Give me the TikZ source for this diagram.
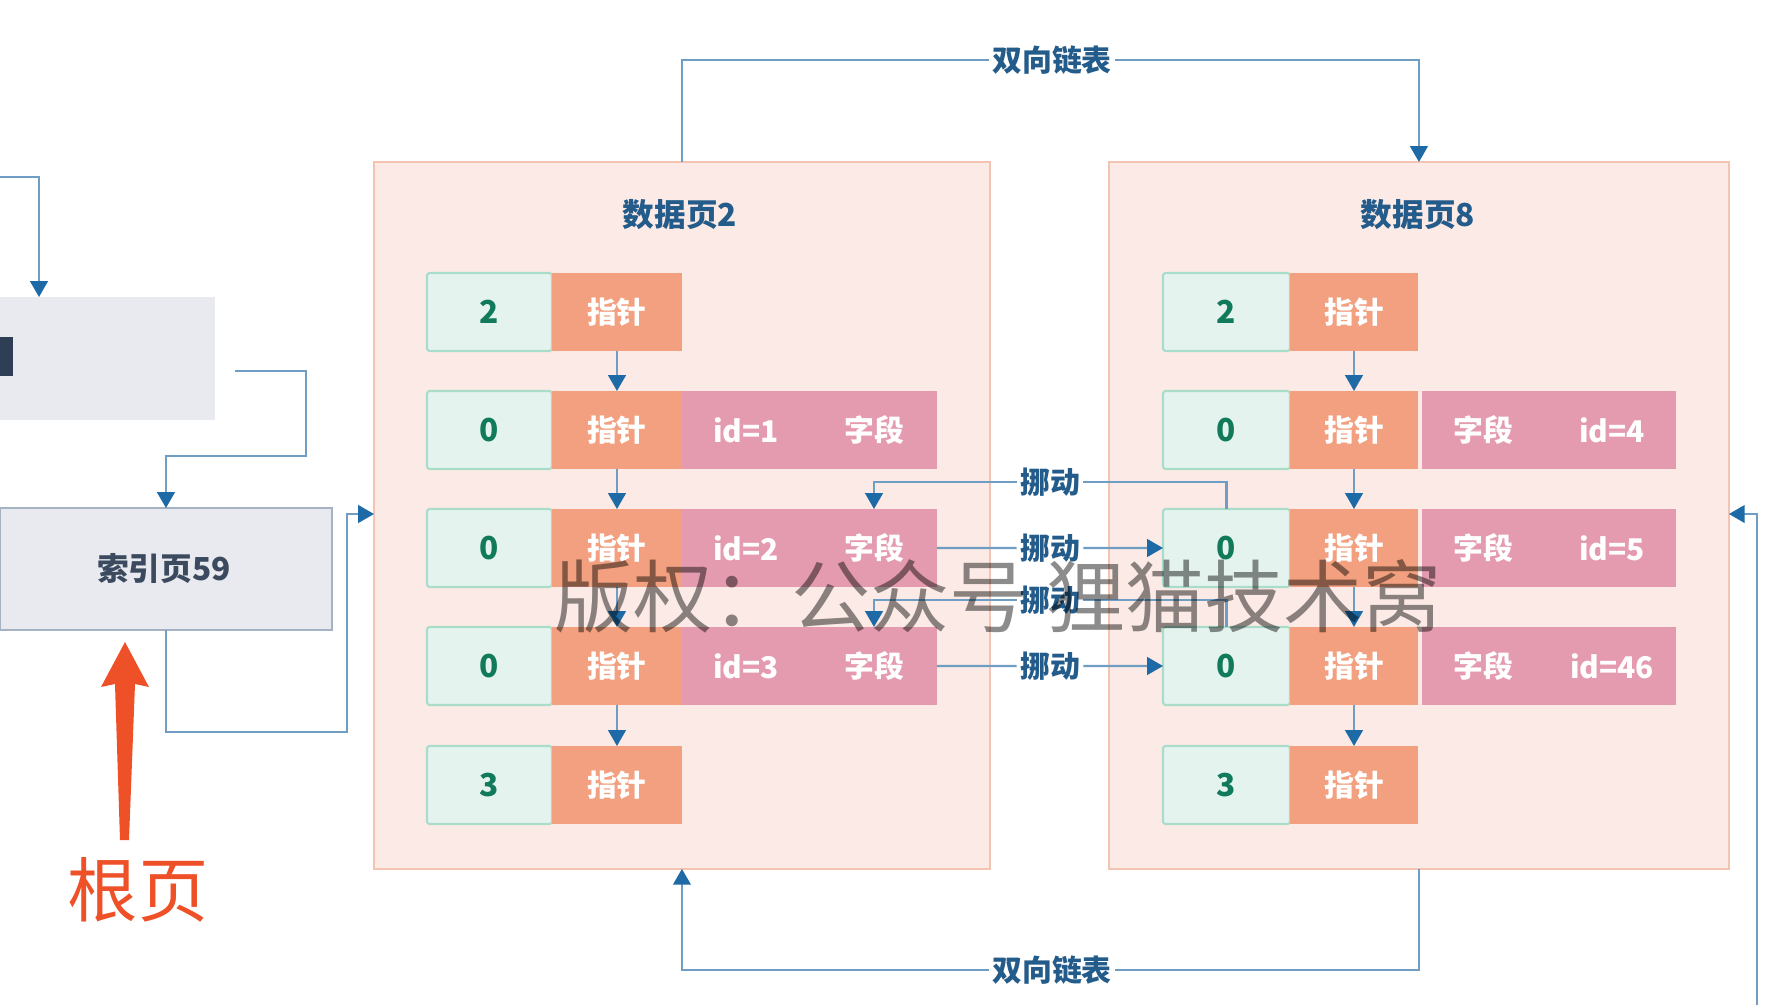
\documentclass[tikz,border=0pt]{standalone}
\usepackage{fontspec}
\setmainfont{Noto Sans CJK SC}
\usetikzlibrary{arrows.meta}
\definecolor{lineblue}{HTML}{6F9DC4}
\definecolor{tipblue}{HTML}{1E6AA6}
\definecolor{titleblue}{HTML}{235B8A}
\definecolor{framefill}{HTML}{FBEAE5}
\definecolor{framedraw}{HTML}{F4C4B2}
\definecolor{numfill}{HTML}{E5F3EE}
\definecolor{numdraw}{HTML}{A9DCC9}
\definecolor{numtext}{HTML}{117A5B}
\definecolor{ptrfill}{HTML}{F2A07F}
\definecolor{pinkfill}{HTML}{E59BAF}
\definecolor{idxfill}{HTML}{E8EAEF}
\definecolor{idxdraw}{HTML}{A5B2C4}
\definecolor{idxtext}{HTML}{3B4A5E}
\definecolor{rootred}{HTML}{EE5128}
\definecolor{darkbit}{HTML}{2E3E55}
\begin{document}
\begin{tikzpicture}[x=0.02cm,y=-0.02cm,
  every node/.style={inner sep=0pt, outer sep=0pt},
  pageframe/.style={draw=framedraw, fill=framefill, line width=1.2pt, minimum height=14.14cm, anchor=north west},
  numcell/.style={draw=numdraw, fill=numfill, line width=1.2pt, rounded corners=1.5pt, minimum height=1.56cm, anchor=north west, text=numtext, font=\fontsize{18}{20}\selectfont\bfseries},
  ptrcell/.style={fill=ptrfill, minimum height=1.56cm, anchor=north west, text=white, font=\fontsize{17}{20}\selectfont\bfseries},
  pinkcell/.style={fill=pinkfill, minimum height=1.56cm, anchor=north west},
  celltext/.style={text=white, font=\fontsize{17}{20}\selectfont\bfseries},
  pagetitle/.style={text=titleblue, font=\fontsize{18}{20}\selectfont\bfseries},
  lbl/.style={text=titleblue, inner xsep=2pt, font=\fontsize{17}{20}\selectfont\bfseries},
  wire/.style={draw=lineblue, line width=1.3pt},
  conn/.style={wire, -{Triangle[length=9pt,width=10pt,color=tipblue]}},
]
\useasboundingbox (0,0) rectangle (1774,1004);
\fill[white] (0,0) rectangle (1774,1004);

% page frames
\node[pageframe, minimum width=12.32cm] (f2) at (374,162) {};
\node[pageframe, minimum width=12.4cm] (f8) at (1109,162) {};
\node[pagetitle] (t2) at (680,215) {数据页2};
\node[pagetitle] (t8) at (1418,215) {数据页8};

% rows
\foreach \r/\y/\n in {1/273/2,2/391/0,3/509/0,4/627/0,5/746/3}{
  \node[numcell, minimum width=2.5cm] (p2n\r) at (427,\y) {\n};
  \node[ptrcell, minimum width=2.6cm] (p2p\r) at (552,\y) {指针};
  \node[numcell, minimum width=2.54cm] (p8n\r) at (1163,\y) {\n};
  \node[ptrcell, minimum width=2.56cm] (p8p\r) at (1290,\y) {指针};
}
\foreach \r/\y/\i/\j in {2/391/1/4,3/509/2/5,4/627/3/46}{
  \node[pinkcell, minimum width=5.1cm] (p2k\r) at (682,\y) {};
  \node[celltext] (p2id\r) at (746,\y+39) {id=\i};
  \node[celltext] (p2f\r) at (874,\y+39) {字段};
  \node[pinkcell, minimum width=5.08cm] (p8k\r) at (1422,\y) {};
  \node[celltext] (p8f\r) at (1483,\y+39) {字段};
  \node[celltext] (p8id\r) at (1612,\y+39) {id=\j};
}
\foreach \r/\s in {1/2,2/3,3/4,4/5}{
  \draw[conn] (p2p\r.south) -- (p2p\s.north);
  \draw[conn] (p8p\r.south) -- (p8p\s.north);
}

% move connectors
\node[lbl] (m1) at (1050,482) {挪动};
\node[lbl] (m2) at (1050,548) {挪动};
\node[lbl] (m3) at (1050,600) {挪动};
\node[lbl] (m4) at (1050,666) {挪动};
\draw[wire] (p8n3.north) |- (m1.east);
\draw[conn] (m1.west) -| (p2f3 |- p2k3.north);
\draw[wire] (p2k3.east) -- (m2.west);
\draw[conn] (m2.east) -- (p8n3.west);
\draw[wire] (p8n4.north) |- (m3.east);
\draw[conn] (m3.west) -| (p2f4 |- p2k4.north);
\draw[wire] (p2k4.east) -- (m4.west);
\draw[conn] (m4.east) -- (p8n4.west);

% doubly linked list
\node[lbl] (lk1) at (1052,60) {双向链表};
\node[lbl] (lk2) at (1052,970) {双向链表};
\draw[wire] (f2.north) |- (lk1.west);
\draw[conn] (lk1.east) -| (f8.north);
\draw[wire] (f8.south) |- (lk2.east);
\draw[conn] (lk2.west) -| (f2.south);

% right incoming
\coordinate (rb) at (1757,1010);
\coordinate (rin) at (1757,514);
\draw[conn] (rb) -- (rin) -- (f8.east |- rin);

% left side: partial box and index page
\node[fill=idxfill, minimum width=4.3cm, minimum height=2.46cm, anchor=north west] (gbox) at (0,297) {};
\fill[darkbit] (0,337) rectangle (13,376);
\node[draw=idxdraw, fill=idxfill, line width=1.2pt, minimum width=6.64cm, minimum height=2.44cm, anchor=north west, text=idxtext, font=\fontsize{18}{20}\selectfont\bfseries] (idx) at (0,508) {};
\node[text=idxtext, font=\fontsize{18}{20}\selectfont\bfseries] (idxt) at (164,569) {索引页59};

\coordinate (g0) at (0,177);
\coordinate (gin) at (39,297);
\draw[conn] (g0) -| (gin);
\coordinate (gout) at (235,371);
\coordinate (gk) at (306,456);
\draw[conn] (gout) -| (gk) -| (idx.north);
\coordinate (c1) at (347,732);
\coordinate (p2in) at (374,514);
\draw[conn] (idx.south) |- (c1) -- (c1 |- p2in) -- (p2in);

% root arrow and label
\fill[rootred] (120,840) -- (115,684) -- (101,687) -- (125,642) -- (149,687) -- (135,684) -- (129,840) -- cycle;
\node[text=rootred, font=\fontsize{40}{46}\selectfont] (root) at (138,890) {根页};

% watermark
\node[text=black, text opacity=0.45, font=\fontsize{45}{50}\selectfont] (wm) at (998,596) {版权：公众号 狸猫技术窝};
\end{tikzpicture}
\end{document}
